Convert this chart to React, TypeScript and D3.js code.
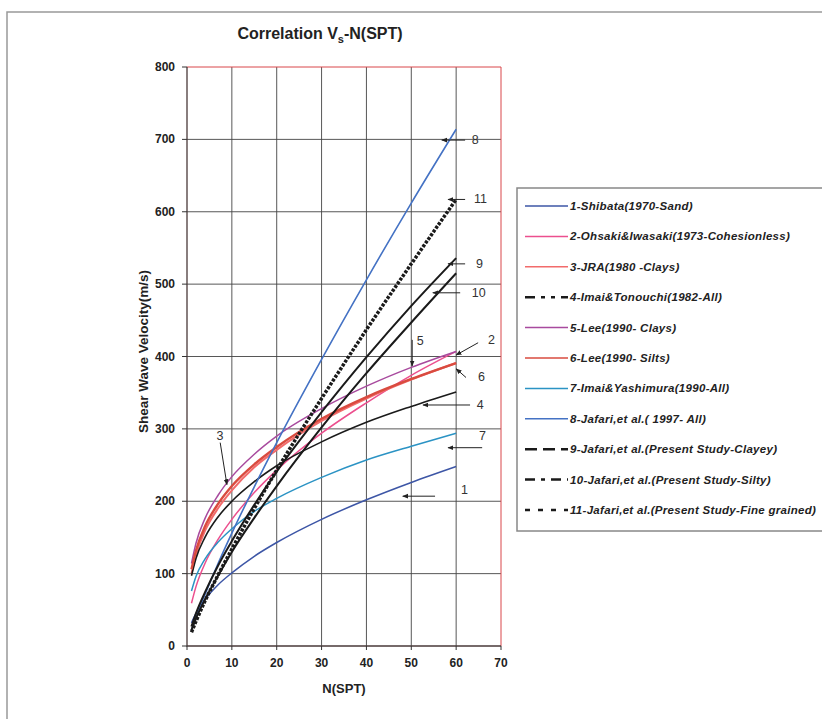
import React from 'react';
import * as d3 from 'd3';

// N(SPT) sample points shared by all curves
const nValues = [1, 2, 4, 7, 10, 15, 20, 30, 40, 50, 60];

// shear wave velocity (m/s)
const shibata = [32, 45, 64, 85, 101, 124, 143, 175, 202, 226, 248];
const ohsaki = [59, 82, 114, 148, 175, 212, 243, 294, 336, 374, 407];
const jra = [100, 126, 159, 191, 215, 247, 271, 311, 342, 368, 391];
const imaiTonouchi = [97, 121, 150, 179, 200, 227, 249, 282, 309, 331, 351];
const leeClays = [114, 142, 176, 209, 234, 265, 290, 328, 359, 385, 407];
const leeSilts = [106, 132, 165, 197, 221, 251, 275, 314, 344, 369, 391];
const imaiYoshimura = [76, 96, 120, 144, 162, 186, 204, 233, 257, 276, 294];
const jafari1997 = [22, 40, 71, 115, 156, 220, 281, 396, 506, 612, 714];
const jafariClayey = [27, 45, 74, 112, 145, 195, 241, 323, 399, 470, 536];
const jafariSilty = [22, 38, 64, 98, 130, 177, 221, 302, 377, 447, 515];
const jafariFine = [19, 34, 62, 99, 134, 190, 243, 342, 437, 528, 617];

const seriesNames = [
  '1-Shibata(1970-Sand)',
  '2-Ohsaki&Iwasaki(1973-Cohesionless)',
  '3-JRA(1980 -Clays)',
  '4-Imai&Tonouchi(1982-All)',
  '5-Lee(1990- Clays)',
  '6-Lee(1990- Silts)',
  '7-Imai&Yashimura(1990-All)',
  '8-Jafari,et al.( 1997- All)',
  '9-Jafari,et al.(Present Study-Clayey)',
  '10-Jafari,et al.(Present Study-Silty)',
  '11-Jafari,et al.(Present Study-Fine grained)'
];
const seriesValues = [
  shibata, ohsaki, jra, imaiTonouchi, leeClays, leeSilts,
  imaiYoshimura, jafari1997, jafariClayey, jafariSilty, jafariFine
];

const xTicks = [0, 10, 20, 30, 40, 50, 60, 70];
const yTicks = [0, 100, 200, 300, 400, 500, 600, 700, 800];

// curve call-outs: label, text position, arrow from -> to (data units)
const callouts = [
  { label: '8', tx: 63.5, ty: 699, x1: 62, y1: 699, x2: 56.8, y2: 699 },
  { label: '11', tx: 64, ty: 617, x1: 62, y1: 617, x2: 58.2, y2: 617 },
  { label: '9', tx: 64.4, ty: 528, x1: 62, y1: 528, x2: 58.2, y2: 528 },
  { label: '10', tx: 63.5, ty: 488, x1: 60.9, y1: 488, x2: 54.8, y2: 488 },
  { label: '5', tx: 51.2, ty: 421, x1: 50.2, y1: 423, x2: 50.2, y2: 387 },
  { label: '2', tx: 67.1, ty: 423, x1: 64.9, y1: 419, x2: 60, y2: 402 },
  { label: '6', tx: 64.9, ty: 372, x1: 62.2, y1: 371, x2: 60, y2: 383 },
  { label: '4', tx: 64.6, ty: 333, x1: 63.1, y1: 333, x2: 52.6, y2: 333 },
  { label: '7', tx: 65.1, ty: 290, x1: 65.8, y1: 274, x2: 58.2, y2: 274 },
  { label: '1', tx: 61.1, ty: 216, x1: 55.3, y1: 207, x2: 48.1, y2: 207 },
  { label: '3', tx: 6.6, ty: 290, x1: 7.4, y1: 281, x2: 8.9, y2: 223 }
];

const colors = [
  '#3d56a6', '#ec4f8e', '#f26b6b', '#1a1a1a', '#a84a9e', '#d94b3f',
  '#2b93c4', '#4472c4', '#1a1a1a', '#1a1a1a', '#1a1a1a'
];
const widths = [1.5, 1.5, 2, 1.6, 1.5, 2.4, 1.5, 1.6, 2, 2, 3.5];
const plotDash = ['', '', '', '', '', '', '', '', '', '', '3,1.5'];
const legendDash = ['', '', '', '10,6,4,6,4,6', '', '', '', '', '12,6', '10,6,4,6', '5,8'];

const W = 822;
const H = 719;
const margin = { l: 187, r: 501, t: 67, b: 646 };
const font = 'Arial, "Liberation Sans", sans-serif';

export default function App() {
  const x = d3.scaleLinear().domain([0, 70]).range([margin.l, margin.r]);
  const y = d3.scaleLinear().domain([0, 800]).range([margin.b, margin.t]);

  const line = d3
    .line<number>()
    .x((_, i) => x(nValues[i]))
    .y((d) => y(d))
    .curve(d3.curveMonotoneX);

  const legendTop = 206;
  const legendStep = 30.4;

  return (
    <svg
      width={W}
      height={H}
      style={{ position: 'absolute', left: 0, top: 0, background: '#fff' }}
      fontFamily={font}
    >
      <defs>
        <marker id="arr" viewBox="0 0 10 10" refX="9" refY="5" markerWidth="6" markerHeight="6" orient="auto">
          <path d="M0,1 L10,5 L0,9 z" fill="#222" />
        </marker>
      </defs>

      {/* page frame */}
      <path d={`M7,${H} L7,12 L${W},12`} fill="none" stroke="#999" strokeWidth={1.5} />

      {/* title */}
      <text x={320} y={39} textAnchor="middle" fontSize={16} fontWeight="bold" fill="#222">
        Correlation V<tspan fontSize={11} dy={4}>s</tspan>
        <tspan dy={-4}>-N(SPT)</tspan>
      </text>

      {/* grid */}
      <g stroke="#444" strokeWidth={0.9}>
        {xTicks.slice(1, -1).map((t) => (
          <line key={'gx' + t} x1={x(t)} x2={x(t)} y1={margin.t} y2={margin.b} />
        ))}
        {yTicks.slice(1, -1).map((t) => (
          <line key={'gy' + t} x1={margin.l} x2={margin.r} y1={y(t)} y2={y(t)} />
        ))}
      </g>
      {/* plot border: red top/right, dark axes */}
      <path d={`M${margin.l},${margin.t} H${margin.r} V${margin.b}`} fill="none" stroke="#d9464a" strokeWidth={1} />
      <path d={`M${margin.l},${margin.t} V${margin.b} H${margin.r}`} fill="none" stroke="#4a3a3a" strokeWidth={1.3} />

      {/* ticks & labels */}
      <g fontSize={12} fontWeight="bold" fill="#222">
        {yTicks.map((t) => (
          <g key={'yt' + t}>
            <line x1={margin.l - 5} x2={margin.l} y1={y(t)} y2={y(t)} stroke="#333" />
            <text x={margin.l - 12} y={y(t) + 4} textAnchor="end">{t}</text>
          </g>
        ))}
        {xTicks.map((t) => (
          <g key={'xt' + t}>
            <line x1={x(t)} x2={x(t)} y1={margin.b} y2={margin.b + 4} stroke="#333" />
            <text x={x(t)} y={margin.b + 21} textAnchor="middle">{t}</text>
          </g>
        ))}
      </g>
      <text x={(margin.l + margin.r) / 2} y={693} textAnchor="middle" fontSize={13} fontWeight="bold" fill="#222">
        N(SPT)
      </text>
      <text
        transform={`translate(148, ${(margin.t + margin.b) / 2 - 5}) rotate(-90)`}
        textAnchor="middle"
        fontSize={13.5}
        fontWeight="bold"
        fill="#222"
      >
        Shear Wave Velocity(m/s)
      </text>

      {/* curves */}
      <g fill="none" strokeLinecap="butt">
        {seriesValues.map((vals, i) => (
          <path
            key={'s' + i}
            d={line(vals) || ''}
            stroke={colors[i]}
            strokeWidth={widths[i]}
            strokeDasharray={plotDash[i] || undefined}
          />
        ))}
      </g>

      {/* call-outs */}
      <g fontSize={12.5} fill="#333">
        {callouts.map((c) => (
          <g key={'c' + c.label}>
            <line
              x1={x(c.x1)} y1={y(c.y1)} x2={x(c.x2)} y2={y(c.y2)}
              stroke="#222" strokeWidth={1} markerEnd="url(#arr)"
            />
            <text x={x(c.tx)} y={y(c.ty) + 4}>{c.label}</text>
          </g>
        ))}
      </g>

      {/* legend */}
      <rect x={517} y={188} width={W} height={343} fill="#fff" stroke="#888" strokeWidth={1.5} />
      <g fontSize={11.5} fontWeight="bold" fontStyle="italic" fill="#222" letterSpacing={0.3}>
        {seriesNames.map((name, i) => {
          const ly = legendTop + i * legendStep;
          return (
            <g key={'l' + i}>
              <line
                x1={525} x2={568} y1={ly} y2={ly}
                stroke={colors[i]}
                strokeWidth={i >= 8 || i === 3 ? 2.5 : 1.5}
                strokeDasharray={legendDash[i] || undefined}
              />
              <text x={570} y={ly + 4}>{name}</text>
            </g>
          );
        })}
      </g>
    </svg>
  );
}
